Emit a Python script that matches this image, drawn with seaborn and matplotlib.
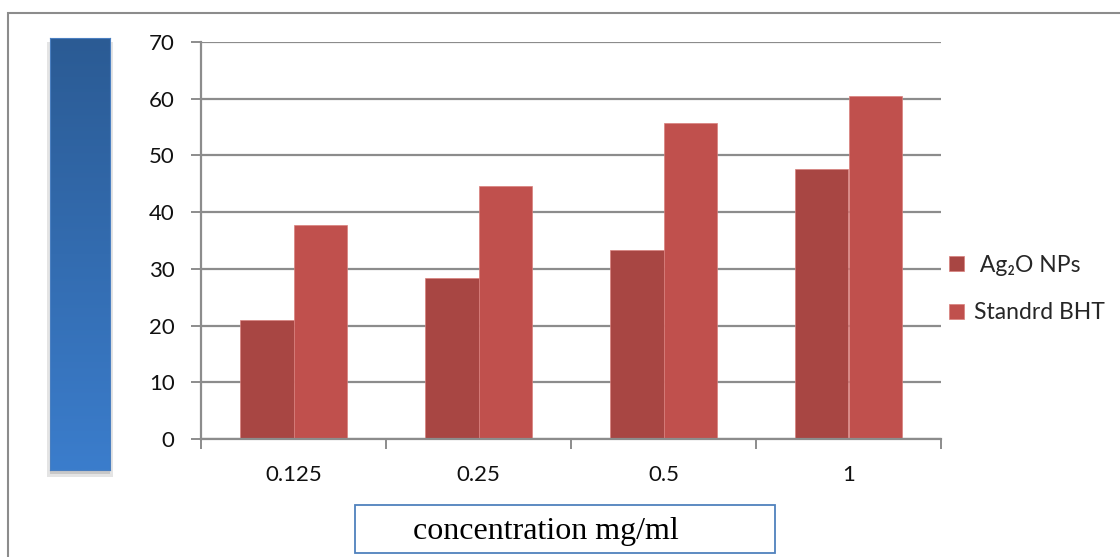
import numpy as np
import pandas as pd
import matplotlib
matplotlib.use("Agg")
import matplotlib.pyplot as plt
import seaborn as sns
from matplotlib.patches import Rectangle
from matplotlib.colors import LinearSegmentedColormap

concentrations = ["0.125", "0.25", "0.5", "1"]
ag2o_values = [21.0, 28.3, 33.3, 47.6]
bht_values = [37.8, 44.6, 55.7, 60.5]
series_names = [" Ag\u2082O NPs", "Standrd BHT"]
series_colors = ["#a84643", "#c0504d"]
y_ticks = [0, 10, 20, 30, 40, 50, 60, 70]
x_label = "concentration mg/ml"

df = pd.DataFrame({
    "conc": concentrations * 2,
    "value": ag2o_values + bht_values,
    "series": [series_names[0]] * 4 + [series_names[1]] * 4,
})

sns.set_theme(style="white")
plt.rcParams["font.family"] = ["Lato", "DejaVu Sans"]

W, H = 1120, 557
fig = plt.figure(figsize=(W / 100, H / 100), dpi=100)

def fx(px):
    return px / W

def fy(py):
    return 1 - py / H

# outer border
fig.patches.append(Rectangle((fx(8), fy(600)), fx(1200) - fx(8), fy(12.5) - fy(600),
                             transform=fig.transFigure, fill=False,
                             edgecolor="#8c8c8c", linewidth=1.5, zorder=-5))

ax = fig.add_axes([fx(201), fy(439), fx(941) - fx(201), fy(42) - fy(439)])
sns.barplot(data=df, x="conc", y="value", hue="series", order=concentrations,
            hue_order=series_names, palette=series_colors, width=0.575,
            saturation=1, ax=ax, legend=True, edgecolor="#d87f7c", linewidth=0.5)

ax.set_ylim(0, 70)
ax.set_xlim(-0.5, len(concentrations) - 0.5)
ax.set_yticks(y_ticks)
ax.set_yticklabels([str(t) for t in y_ticks], fontsize=16, color="#111111")
ax.set_xticks(range(len(concentrations)))
ax.set_xticklabels(concentrations, fontsize=16, color="#111111")
ax.set_xlabel("")
ax.set_ylabel("")
ax.yaxis.grid(True, color="#8c8c8c", linewidth=1.6)
ax.set_axisbelow(True)
for s in ["top", "right"]:
    ax.spines[s].set_visible(False)
for s in ["left", "bottom"]:
    ax.spines[s].set_color("#8c8c8c")
    ax.spines[s].set_linewidth(1.6)
ax.tick_params(axis="y", which="major", length=7, width=1.4, color="#8c8c8c", pad=12, left=True)
ax.tick_params(axis="x", which="major", length=0, pad=19)
ax.set_xticks(np.arange(-0.5, len(concentrations), 1.0), minor=True)
ax.tick_params(axis="x", which="minor", length=7, width=1.4, color="#8c8c8c", bottom=True)

handles, labels = ax.get_legend_handles_labels()
ax.get_legend().remove()
fig.legend(handles, labels, loc="center left",
           bbox_to_anchor=(fx(938), fy(289)), frameon=False, fontsize=16.5,
           handlelength=0.62, handleheight=0.62, handletextpad=0.45,
           labelspacing=1.15, borderpad=0)

# decorative blue gradient bar on the left
shadow = Rectangle((fx(47), fy(477)), fx(113) - fx(47), fy(42) - fy(477),
                   transform=fig.transFigure, facecolor="#e4e4e4", edgecolor="none", zorder=-2)
fig.patches.append(shadow)
shadow2 = Rectangle((fx(50), fy(474)), fx(110) - fx(50), fy(466) - fy(474),
                    transform=fig.transFigure, facecolor="#c8c8c8", edgecolor="none", zorder=-1)
fig.patches.append(shadow2)
bax = fig.add_axes([fx(50), fy(470), fx(110) - fx(50), fy(38) - fy(470)])
bax.set_zorder(3)
grad = np.linspace(0, 1, 256).reshape(-1, 1)
cmap = LinearSegmentedColormap.from_list("b", ["#2b5b94", "#3b7dcc"])
bax.imshow(grad, aspect="auto", cmap=cmap, extent=[0, 1, 0, 1], origin="upper")
bax.set_xticks([])
bax.set_yticks([])
for s in bax.spines.values():
    s.set_edgecolor("#4a7fc0")
    s.set_linewidth(0.8)

# x-axis label text box
fig.patches.append(Rectangle((fx(355), fy(553)), fx(775) - fx(355), fy(505) - fy(553),
                             transform=fig.transFigure, facecolor="white",
                             edgecolor="#4f81bd", linewidth=1.3, zorder=2))
fig.text(fx(413), fy(532), x_label, fontsize=23, family="Liberation Serif",
         ha="left", va="center", color="#000000", zorder=3)

fig.savefig("out.png", dpi=100, facecolor="white")
